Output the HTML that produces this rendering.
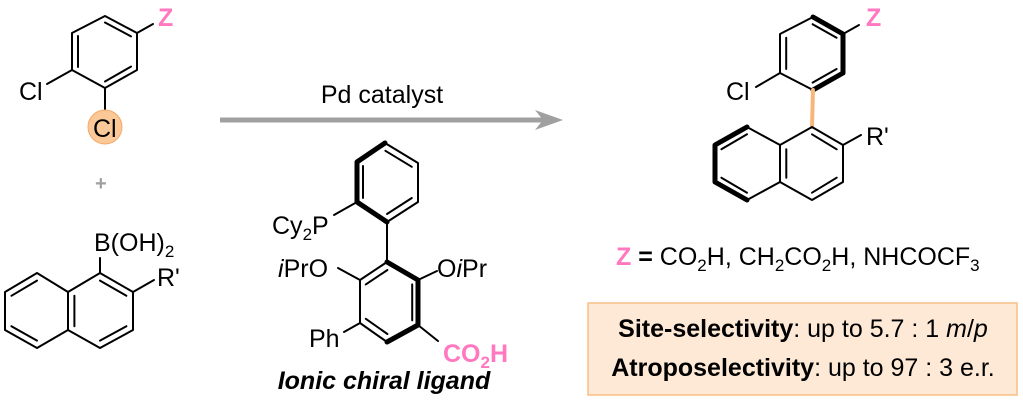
<!DOCTYPE html>
<html><head><meta charset="utf-8"><style>
html,body{margin:0;padding:0;background:#fff;}
svg{display:block;}
text{font-family:"Liberation Sans",Arial,sans-serif;font-size:25px;fill:#000;}
.pk{fill:#ff78c0;font-weight:bold;}
</style></head><body>
<svg width="1023" height="407" viewBox="0 0 1023 407" xmlns="http://www.w3.org/2000/svg">
<g stroke="#000" stroke-width="2" fill="none" stroke-linecap="round" stroke-linejoin="round">
<polygon points="105,16 137,33 137,70 105,88 72,70 72,33"/>
<line x1="78" y1="36" x2="78" y2="67"/><line x1="105" y1="22.5" x2="131" y2="36.4"/><line x1="131" y1="66.6" x2="105" y2="81.5"/>
<line x1="137" y1="33" x2="153" y2="24"/><line x1="72" y1="70" x2="47" y2="84"/><line x1="105" y1="88" x2="105" y2="111"/>
<polygon points="100,273 133,292 133,330 100,348 68,330 68,292"/>
<polyline points="68,292 37,273 5,292 5,330 37,348 68,330"/>
<line x1="100" y1="280.6" x2="126.4" y2="295.8"/><line x1="126.4" y1="326.2" x2="100" y2="340.6"/><line x1="74.4" y1="295.8" x2="74.4" y2="326.2"/>
<line x1="37" y1="280.6" x2="11.4" y2="295.8"/><line x1="11.4" y1="326.2" x2="37" y2="340.6"/>
<line x1="100" y1="273" x2="100" y2="258"/><line x1="133" y1="292" x2="154" y2="280"/>
<polygon points="385,143 418,163 418,202 387,222 357,202 357,162"/>
<line x1="363" y1="166" x2="363" y2="198"/><line x1="385.4" y1="150.8" x2="411.8" y2="166.8"/><line x1="411.8" y1="198" x2="387" y2="214"/>
<polyline points="385,143 357,162 357,202 387,222" stroke-width="5"/>
<line x1="357" y1="202" x2="334" y2="215"/>
<line x1="387" y1="222" x2="387" y2="262"/>
<polygon points="387,262 418,280 418,325 387,342 360,323 360,280"/>
<line x1="387.4" y1="270" x2="365.8" y2="284.4"/><line x1="412.2" y1="284.4" x2="412.2" y2="320.4"/><line x1="365.8" y1="318.8" x2="387.4" y2="334"/>
<polyline points="387,262 418,280 418,325 387,342" stroke-width="5"/>
<line x1="418" y1="280" x2="437" y2="271"/><line x1="360" y1="280" x2="338" y2="268"/>
<line x1="360" y1="323" x2="344" y2="332"/><line x1="418" y1="325" x2="438" y2="341"/>
<polygon points="813,17 843,34 843,73 813,90 780,73 780,34"/>
<line x1="786.2" y1="37.8" x2="786.2" y2="69"/><line x1="812.6" y1="24.2" x2="836.6" y2="37.8"/><line x1="836.6" y1="69" x2="812.6" y2="82.6"/>
<polyline points="813,17 843,34 843,73 813,90" stroke-width="5"/>
<line x1="843" y1="34" x2="859" y2="25"/><line x1="780" y1="73" x2="756" y2="87"/>
<line x1="813" y1="90" x2="812" y2="127" stroke="#f8b77a" stroke-width="4"/>
<polygon points="812,127 843,145 843,182 812,200 780,182 780,145"/>
<polyline points="780,145 747,127 715,145 715,182 747,200 780,182"/>
<polyline points="747,127 715,145 715,182 747,200" stroke-width="5"/>
<line x1="812" y1="134.3" x2="836.7" y2="149.3"/><line x1="836.7" y1="177.7" x2="812" y2="192.7"/><line x1="786.3" y1="149.3" x2="786.3" y2="177.7"/>
<line x1="747" y1="134.3" x2="721.4" y2="149.3"/><line x1="721.4" y1="177.7" x2="747" y2="192.7"/>
<line x1="843" y1="145" x2="861" y2="135"/>
</g>
<circle cx="105" cy="127" r="17" fill="#fbc897" stroke="#f5a868" stroke-width="1"/>
<line x1="220" y1="120" x2="545" y2="120" stroke="#a0a0a0" stroke-width="5"/>
<polygon points="535,110 563,120 535,130 543,120" fill="#a0a0a0"/>
<text x="158" y="26" class="pk">Z</text>
<text x="19" y="100">Cl</text>
<text x="93" y="137">Cl</text>
<text x="95" y="190" style="fill:#a0a0a0;font-weight:bold;font-size:20px">+</text>
<text x="94" y="251">B(OH)<tspan font-size="17" dy="6">2</tspan></text>
<text x="157" y="286">R'</text>
<text x="382" y="103" text-anchor="middle">Pd catalyst</text>
<text x="272" y="234">Cy<tspan font-size="17" dy="6">2</tspan><tspan dy="-6">P</tspan></text>
<text x="278" y="277"><tspan font-style="italic">i</tspan>PrO</text>
<text x="437" y="277">O<tspan font-style="italic">i</tspan>Pr</text>
<text x="309" y="347">Ph</text>
<text x="443" y="362" class="pk">CO<tspan font-size="17" dy="6">2</tspan><tspan dy="-6">H</tspan></text>
<text x="384" y="389" text-anchor="middle" style="font-weight:bold;font-style:italic">Ionic chiral ligand</text>
<text x="866" y="26" class="pk">Z</text>
<text x="726" y="100">Cl</text>
<text x="866" y="145">R'</text>
<text x="616" y="265"><tspan class="pk">Z</tspan> <tspan font-weight="bold">=</tspan> CO<tspan font-size="17" dy="6">2</tspan><tspan dy="-6">H, CH</tspan><tspan font-size="17" dy="6">2</tspan><tspan dy="-6">CO</tspan><tspan font-size="17" dy="6">2</tspan><tspan dy="-6">H, NHCOCF</tspan><tspan font-size="17" dy="6">3</tspan></text>
<rect x="588" y="303" width="429" height="92" fill="#fde9d6" stroke="#f8bf85" stroke-width="1.5"/>
<text x="803" y="337" text-anchor="middle"><tspan font-weight="bold">Site-selectivity</tspan>: up to 5.7 : 1 <tspan font-style="italic">m</tspan>/<tspan font-style="italic">p</tspan></text>
<text x="803" y="376" text-anchor="middle"><tspan font-weight="bold">Atroposelectivity</tspan>: up to 97 : 3 e.r.</text>
</svg>
</body></html>
